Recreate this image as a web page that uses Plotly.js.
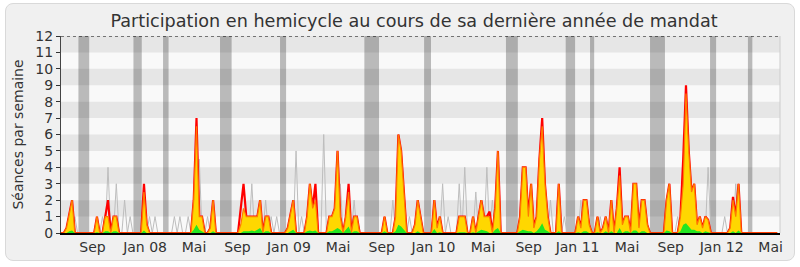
<!DOCTYPE html>
<html>
<head>
<meta charset="utf-8">
<script src="https://cdn.plot.ly/plotly-3.0.1.min.js"></script>
<style>
  html, body { margin: 0; padding: 0; background: #ffffff; }
  #frame { position: absolute; left: 5px; top: 3px; width: 788px; height: 256px;
           background: #f0f0f0; border: 1px solid #d9d9d9; border-radius: 8px; }
  #chart { position: absolute; left: 0; top: 0; width: 800px; height: 267px; }
</style>
</head>
<body>
<div id="frame"></div>
<div id="chart"></div>
<script>
// Weekly values (one entry per week, from June 2007 to June 2012)
const presence = [
  0,0,0.3,1.2,2,0,0,0,0,0, 0,0,0,1,0,0,1,1,0,1,
  1,0,0,0,0,0,0,0,0,0, 2.5,0.5,0,0,0,0,0,0,0,0,
  0,0,0,0,0,0,0,0,2,6.5, 1,1,0,0,0.3,2,0,0,0,0,
  0,0,0,0,0,0.5,1.5,1,1,1, 1,1,2,0,1,1,0,0,0,0,
  0,0,0.3,1.2,2,0,0,0,0,1, 3,1.5,2,0,0,0,0,1,1,1.5,
  5,1,0,1,2.5,0,1,1,0,0, 0,0,0,0,0,0,0,1,0,0,
  0,1,6,5,2.5,0,0,0,0.5,2, 1,0,0,0,0,2,0.3,1,0,0,
  0,0,0,0,1,1,1,0,0,1, 0,1,2,1,1,1,0,1.5,5,0,
  0,0,0,0,0,0,1,4,4,1, 3,0.3,1,4.5,6.5,3,1,0,0,0,
  3,0,0,0,0,0,0,1,0.3,2, 2,0.5,0,0,1,0,0.3,1,0,2,
  0,1.5,3.5,0.5,1,1,0,3,3,0.3, 2,2,0.5,0,0,0,0,0,0,2,
  3,0,0,0,1,3,8.5,5,2.5,3, 0.5,1,0.3,1,0.8,0,0,0,0,0,
  0,0,0.3,2,1,3,0,0,0,0, 0,0,0,0,0,0,0,0,0,0
];
const participation = [
  0,0,0.3,1.2,2,0,0,0,0,0, 0,0,0,1,0,0,1,2,0,1,
  1,0,0,0,0,0,0,0,0,0, 3,0.5,0,0,0,0,0,0,0,0,
  0,0,0,0,0,0,0,0,2,7, 1,1,0,0,0.3,2,0,0,0,0,
  0,0,0,0,0,1.5,3,1,1,1, 1,1,2,0,1,1,0,0,0,0,
  0,0,0.3,1.2,2,0,0,0,0,1, 3,1.5,3,0,0,0,0,1,1,1.5,
  5,1,0,1,3,0,1,1,0,0, 0,0,0,0,0,0,0,1,0,0,
  0,1,6,5,2.5,0,0,0,0.5,2, 1,0,0,0,0,2,0.3,1,0,0,
  0,0,0,0,1,1,1,0,0,1, 0,1,2,1,1,1.3,0,1.5,5,0,
  0,0,0,0,0,0,1,4,4,1, 3,0.3,1,4.5,7,3,1,0,0,0,
  3,0,0,0,0,0,0,1,0.3,2, 2,0.5,0,0,1,0,0.3,1,0,2,
  0,1.5,4,0.5,1,1,0,3,3,0.3, 2,2,0.5,0,0,0,0,0,0,2,
  3,0,0,0,1,4.5,9,5,2.5,3, 0.5,1,0.3,1,0.8,0,0,0,0,0,
  0,0,0.3,2.2,1,3,0,0,0,0, 0,0,0,0,0,0,0,0,0,0
];
const seancesTotal = [
  0,0,0,0,0,1,0,0,0,0, 0,0,0,0,0,1,0,4,0,0,
  3,0,0,2,0,1,0,0,0,0, 0,0,1,0,1,0,0,0,0,0,
  0,1,0,1,0,0,1,0,0,0, 4.5,0,0,1,0,0,0,0,0,0,
  0,0,0,0,0,0,0,0,0,3, 0,0,0,0,2,0,1,0,1,0,
  0,0,0,0,0,5,0,1,0,0, 0,0,0,0,0,6,0,0,0,0,
  0,3,0,0,0,0,2,0,0,0, 0,0,0,0,0,0,0,0,0,0,
  2,0,0,0,0,0,1,0,0,0, 0,0,0,0,0,0,0,0,3,0,
  1,0,0,0,3,0,4,0,0,0, 2.5,0,0,0,4,0,2,0,0,0,
  0,0,0,0,0,0,0,0,0,0, 0,0,0,0,0,0,0,2,0,0,
  0,0,1,0,0,0,0,0,2,0, 0,0,0,0,0,1,0,0,0,0,
  0,0,0,1,0,0,0,0,0,0, 0,0,0,0,0,0,0,0,0,0,
  0,0,0,1,0,0,0,0,3,0, 0,0,0,0,4,0,0,0,0,0,
  1,0,0,0,3,0,0,0,0,0, 0,0,0,0,0,0,0,0,0,0
];
const interventions = [
  0,0,0,0.1,0.15,0,0,0,0,0, 0,0,0,0.05,0,0,0.1,0.1,0,0.1,
  0.1,0,0,0,0,0,0,0,0,0, 0.15,0,0,0,0,0,0,0,0,0,
  0,0,0,0,0,0,0,0,0.2,0.5, 0.2,0.1,0,0,0,0.1,0,0,0,0,
  0,0,0,0,0,0,0.1,0.1,0.1,0.15, 0.1,0.2,0.3,0,0.1,0.1,0,0,0,0,
  0,0,0,0.1,0.2,0,0,0,0,0.1, 0.15,0.1,0.15,0,0,0,0,0.1,0.1,0.2,
  0.3,0.2,0,0.2,0.4,0,0.1,0.1,0,0, 0,0,0,0,0,0,0,0.1,0,0,
  0,0.1,0.5,0.4,0.2,0,0,0,0,0.1, 0,0,0,0,0,0.25,0,0.05,0,0,
  0,0,0,0,0.05,0.05,0.05,0,0,0.05, 0,0.1,0.2,0.15,0.1,0,0,0.2,0.3,0,
  0,0,0,0,0,0,0.1,0.2,0.15,0.1, 0.1,0,0.1,0.3,0.6,0.2,0.1,0,0,0,
  0.1,0,0,0,0,0,0,0.05,0,0.1, 0.1,0,0,0,0.05,0,0,0.1,0,0.1,
  0,0,0.3,0,0.1,0.1,0,0.15,0.15,0, 0.1,0.1,0,0,0,0,0,0,0,0.15,
  0.1,0,0,0,0.1,0.5,0.6,0.4,0.2,0.2, 0.1,0.1,0,0.1,0.05,0,0,0,0,0,
  0,0,0,0.1,0,0.15,0,0,0,0, 0,0,0,0,0,0,0,0,0,0
];
// Parliamentary recess periods (week index start, end)
const vacances = [[6.3,10.2],[26.2,29.2],[36.9,38.9],[57.5,61.7],[79.2,81.4],[109.7,115.0],
  [131.3,133.8],[160.9,165.2],[182.5,185.9],[191.3,192.8],[213.0,218.4],[234.7,236.9],[248.4,250.0]];
// Month labels on the time axis (week index)
const moisPos = [11.4,30.4,48.1,63.8,82.4,100.2,116.0,134.7,152.6,169.1,186.8,204.7,220.5,238.9,256.6];
const moisLabels = ['Sep','Jan 08','Mai','Sep','Jan 09','Mai','Sep','Jan 10','Mai','Sep','Jan 11','Mai','Sep','Jan 12','Mai'];
const yTicks = [0,1,2,3,4,5,6,7,8,9,10,11,12];

const semaines = presence.map((_, i) => i);

const shapes = [];
for (let k = 1; k < 12; k += 2) {
  shapes.push({type:'rect', xref:'paper', yref:'y', x0:0, x1:1, y0:k, y1:k+1,
    fillcolor:'#e6e6e6', line:{width:0}, layer:'below'});
}
vacances.forEach(v => shapes.push({type:'rect', xref:'x', yref:'paper', x0:v[0], x1:v[1], y0:0, y1:1,
  fillcolor:'rgba(0,0,0,0.25)', line:{width:0}, layer:'below'}));
shapes.push({type:'line', xref:'paper', yref:'y', x0:0, x1:1, y0:12, y1:12,
  line:{color:'#000', width:1, dash:'dot'}});
shapes.push({type:'line', xref:'paper', yref:'paper', x0:1, x1:1, y0:0, y1:1,
  line:{color:'#cccccc', width:1}});

const traces = [
  {x: semaines, y: seancesTotal, type:'scatter', mode:'lines',
   line:{color:'#bdbdbd', width:1}, hoverinfo:'skip'},
  {x: semaines, y: participation, type:'scatter', mode:'lines',
   line:{color:'#ff0000', width:2.2}, hoverinfo:'skip'},
  {x: semaines, y: presence, type:'scatter', mode:'lines', fill:'tozeroy',
   fillcolor:'#ffd700', line:{color:'#ff7a00', width:1.2}, hoverinfo:'skip'},
  {x: semaines, y: interventions, type:'scatter', mode:'lines', fill:'tozeroy',
   fillcolor:'#22e622', line:{color:'#22e622', width:0}, hoverinfo:'skip'}
];

const layout = {
  width: 800, height: 267,
  margin: {l:61, r:20, t:36, b:34},
  paper_bgcolor: 'rgba(0,0,0,0)',
  plot_bgcolor: '#f9f9f9',
  showlegend: false,
  font: {family:'DejaVu Sans, Verdana, sans-serif', size:14, color:'#333'},
  title: {text:'Participation en hemicycle au cours de sa dernière année de mandat',
    x:0.5175, xanchor:'center', y:0.922, yanchor:'middle',
    font:{family:'DejaVu Sans, sans-serif', size:17.6, color:'#333'}},
  xaxis: {range:[0,260], tickvals: moisPos, ticktext: moisLabels, ticks:'', showgrid:false,
    zeroline:false, showline:true, linecolor:'#000', linewidth:2,
    tickfont:{size:14, color:'#333'}},
  yaxis: {range:[0,12], tickvals: yTicks, ticks:'outside', ticklen:4, tickcolor:'#333',
    showgrid:false, zeroline:false, showline:true, linecolor:'#444', linewidth:1,
    tickfont:{size:14, color:'#333'},
    title:{text:'Séances par semaine', font:{size:14, color:'#333'}, standoff:8}},
  shapes: shapes
};

Plotly.newPlot('chart', traces, layout, {displayModeBar:false, staticPlot:true});
</script>
</body>
</html>
